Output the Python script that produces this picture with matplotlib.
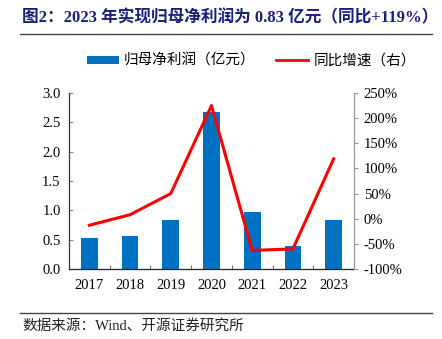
import matplotlib
matplotlib.use("Agg")
import matplotlib.pyplot as plt
from matplotlib.lines import Line2D
from matplotlib.patches import Patch
import numpy as np

plt.rcParams['font.family'] = ['Liberation Serif', 'Noto Sans CJK SC']

years = ['2017', '2018', '2019', '2020', '2021', '2022', '2023']
net_profit = [0.52, 0.57, 0.84, 2.68, 0.98, 0.39, 0.83]      # 亿元
yoy_growth = [-13, 8, 50, 225, -63, -60, 119]               # %

left_ticks = [0.0, 0.5, 1.0, 1.5, 2.0, 2.5, 3.0]
right_ticks = [-100, -50, 0, 50, 100, 150, 200, 250]

BLUE = '#0070C0'
RED = '#FF0000'
NAVY = '#1B1F78'

W, H = 442, 339
fig = plt.figure(figsize=(W / 100, H / 100), dpi=100)

# axes placed in pixel coordinates
x0, x1 = 69, 354
y_top, y_bot = 93, 269
ax = fig.add_axes([x0 / W, 1 - y_bot / H, (x1 - x0) / W, (y_bot - y_top) / H])
ax2 = ax.twinx()

x = np.arange(len(years))
ax.bar(x, net_profit, width=0.41, color=BLUE, zorder=2)
ax.set_xlim(-0.5, len(years) - 0.5)
ax.set_ylim(0, 3.0)
ax.set_yticks(left_ticks)
ax.set_yticklabels([f'{v:.1f}' for v in left_ticks], fontsize=10.5)
ax.set_xticks(x)
ax.set_xticklabels(years, fontsize=10.5)
ax.tick_params(axis='x', length=0, pad=7)
ax.set_xticks(np.arange(0.5, len(years) - 0.5, 1.0), minor=True)
ax.tick_params(axis='x', which='minor', direction='in', length=3, color='#555555')
ax.tick_params(axis='y', direction='in', length=3, color='#888888', pad=6)

ax2.plot(x, yoy_growth, color=RED, lw=2.2, zorder=3)
ax2.set_ylim(-100, 250)
ax2.set_yticks(right_ticks)
ax2.set_yticklabels([f'{v}%' for v in right_ticks], fontsize=10.5)
ax2.tick_params(axis='y', direction='out', length=3, color='#999999', pad=4)

for a in (ax, ax2):
    a.spines['top'].set_visible(False)
ax.spines['right'].set_visible(False)
ax2.spines['left'].set_visible(False)
ax2.spines['bottom'].set_visible(False)
ax.spines['left'].set_color('#333333')
ax.spines['bottom'].set_color('#222222')
ax2.spines['right'].set_color('#999999')
ax.spines['left'].set_linewidth(0.9)
ax.spines['bottom'].set_linewidth(0.9)
ax2.spines['right'].set_linewidth(0.9)

# title
fig.text(22 / W, 1 - 18 / H, '图2：2023 年实现归母净利润为 0.83 亿元（同比+119%）',
         fontsize=12, fontweight='bold', color=NAVY, ha='left', va='center',
         family=['Liberation Serif', 'Noto Sans CJK SC'])
fig.add_artist(Line2D([20 / W, 432 / W], [1 - 34 / H, 1 - 34 / H], color='#444444', lw=1.0))

# legend
handles = [Patch(facecolor=BLUE, edgecolor='none'), Line2D([0], [0], color=RED, lw=2)]
labels = ['归母净利润（亿元）', '同比增速（右）']
fig.legend(handles, labels, loc='center left', bbox_to_anchor=(87 / W, 1 - 61 / H), ncol=2,
           frameon=False, handlelength=2.2, handleheight=0.45, columnspacing=1.4,
           handletextpad=0.35, borderpad=0, borderaxespad=0,
           prop={'family': ['Noto Sans CJK SC'], 'size': 10.5})

# source
fig.add_artist(Line2D([20 / W, 432 / W], [1 - 312.5 / H, 1 - 312.5 / H], color='#444444', lw=1.0))
fig.text(22 / W, 1 - 326 / H, '数据来源：Wind、开源证券研究所', fontsize=10.5, color='#222222',
         ha='left', va='center', family=['Liberation Serif', 'Noto Sans CJK SC'])

fig.savefig('out.png', dpi=100)
